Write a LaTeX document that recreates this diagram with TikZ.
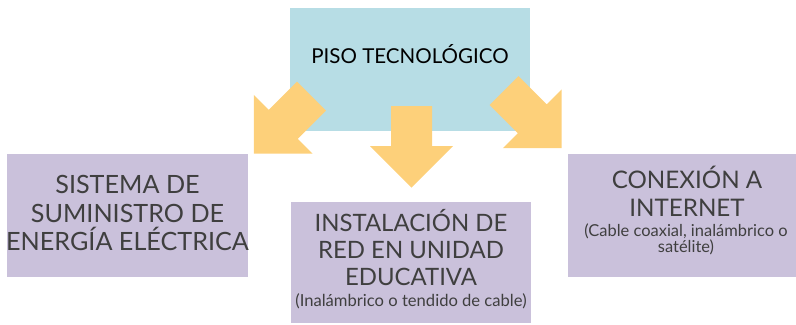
\documentclass[tikz,border=0pt]{standalone}
\usepackage{fontspec}
\setmainfont{Lato}
\usepackage{xcolor}
\usepackage{tikz}
\usetikzlibrary{positioning,%
  calc%
}

\definecolor{azul}{HTML}{B7DDE5}
\definecolor{lila}{HTML}{CAC1DB}
\definecolor{naranja}{HTML}{FDD07A}
\definecolor{gris}{HTML}{3F3F3F}

\begin{document}
\begin{tikzpicture}
                    [
                        x=0.025cm, y=-0.025cm,
                        caja/.style={rectangle, inner sep=0pt, minimum width=6cm, minimum height=3.075cm},
                        texto/.style={align=center, text=gris, inner sep=0pt},
                        flecha/.style={fill=naranja}
                    ]
                    
                    % Rahmen
                    \useasboundingbox (0,0) rectangle (796,324);
                    
                    % Kaesten
                    \node[caja, fill=azul] (piso) at (410,69.5) {};
                    \node[caja, fill=lila, minimum width=6.025cm] (energia) at (127.5,215.5) {};
                    \node[caja, fill=lila, minimum height=3.025cm] (red) at (411,262.5) {};
                    \node[caja, fill=lila, minimum width=5.7cm] (internet) at (682,215.5) {};
                    
                    % Pfeile
                    \foreach \x/\y/\a in {311.5/96/-135, 411.5/106/-90, 504/90.5/-45}
                        \fill[flecha, shift={(\x,\y)}, rotate=\a] (0,-20.5) -- (40,-20.5) -- (40,-41.5) -- (81.5,0) -- (40,41.5) -- (40,20.5) -- (0,20.5) -- cycle;
                    
                    % Texte
                    \node[texto, text=black, font=\fontsize{14.6}{18}\selectfont] (piso-t) at (410,54) {PISO TECNOLÓGICO};
                    \node[texto, font=\fontsize{17.9}{20}\selectfont] (energia-t) at (127.5,213) {SISTEMA DE\\SUMINISTRO DE\\ENERGÍA ELÉCTRICA};
                    \node[texto, font=\fontsize{17}{19.5}\selectfont] (red-t) at (411,247.5) {INSTALACIÓN DE\\RED EN UNIDAD\\EDUCATIVA};
                    \node[texto, font=\fontsize{11.8}{13}\selectfont] (red-s) at (411,301) {(Inalámbrico o tendido de cable)};
                    \node[texto, font=\fontsize{17.2}{20}\selectfont] (internet-t) at (687,191.5) {CONEXIÓN A\\INTERNET};
                    \node[texto, font=\fontsize{11.7}{11.5}\selectfont] (internet-s) at (686,239.5) {(Cable coaxial, inalámbrico o\\satélite)};
                \end{tikzpicture}
\end{document}
